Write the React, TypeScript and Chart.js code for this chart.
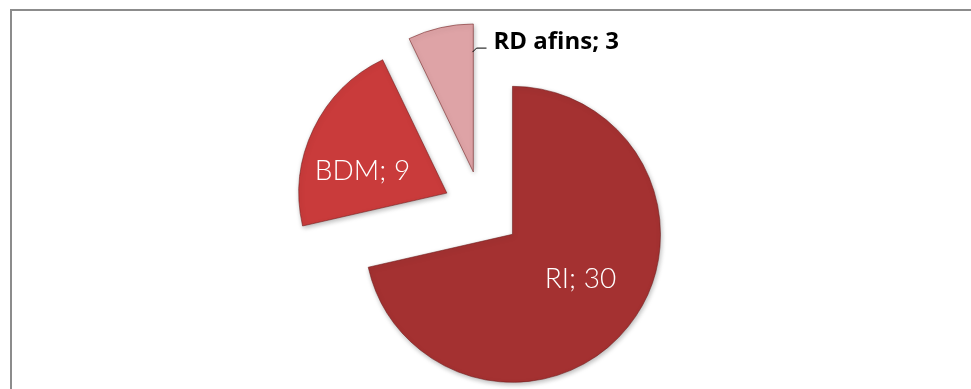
import React, { useEffect, useRef } from "react";
import { Chart, registerables } from "chart.js";

Chart.register(...registerables);

const categories = ["RI", "BDM", "RD afins"];
const values = [30, 9, 3];
const sliceColors = ["#a43131", "#c93b3b", "#dea3a6"];
const labelColors = ["#ffffff", "#ffffff", "#000000"];

const EXPLODE = 39;
const RADIUS = 148;

// label placement: fraction of slice angle, fraction of radius, inside/outside
const labelLayout = [
  { at: 0.48, r: 0.55, outside: false },
  { at: 0.36, r: 0.59, outside: false },
  { at: 0.985, r: 0.81, outside: true },
];

const explodePlugin = {
  id: "explodeSlices",
  beforeDatasetDraw(chart: any, args: any) {
    const ctx = chart.ctx;
    args.meta.data.forEach((arc: any) => {
      const half = (arc.startAngle + arc.endAngle) / 2;
      ctx.save();
      ctx.translate(Math.cos(half) * EXPLODE, Math.sin(half) * EXPLODE);
      ctx.shadowColor = "rgba(0,0,0,0.28)";
      ctx.shadowBlur = 5;
      ctx.shadowOffsetX = 1;
      ctx.shadowOffsetY = 2;
      arc.draw(ctx);
      ctx.restore();
    });
    return false;
  },
};

const labelPlugin = {
  id: "sliceLabels",
  afterDatasetsDraw(chart: any) {
    const ctx = chart.ctx;
    const meta = chart.getDatasetMeta(0);
    meta.data.forEach((arc: any, i: number) => {
      const half = (arc.startAngle + arc.endAngle) / 2;
      const cx = arc.x + Math.cos(half) * EXPLODE;
      const cy = arc.y + Math.sin(half) * EXPLODE;
      const lay = labelLayout[i];
      const a = arc.startAngle + (arc.endAngle - arc.startAngle) * lay.at;
      const px = cx + Math.cos(a) * arc.outerRadius * lay.r;
      const py = cy + Math.sin(a) * arc.outerRadius * lay.r;
      const text = categories[i] + "; " + values[i];
      ctx.save();
      ctx.fillStyle = labelColors[i];
      if (!lay.outside) {
        ctx.font = "300 28px Lato";
        ctx.textAlign = "center";
        ctx.textBaseline = "middle";
        ctx.fillText(text, px, py);
      } else {
        const ex = px + 4;
        const ey = py - 4;
        ctx.strokeStyle = "#000000";
        ctx.lineWidth = 1;
        ctx.beginPath();
        ctx.moveTo(px, py);
        ctx.lineTo(ex, ey);
        ctx.lineTo(ex + 10, ey);
        ctx.stroke();
        ctx.font = "bold 24px 'Open Sans'";
        ctx.textAlign = "left";
        ctx.textBaseline = "alphabetic";
        ctx.fillText(text, ex + 17, ey + 1);
      }
      ctx.restore();
    });
  },
};

export default function App() {
  const ref = useRef<HTMLCanvasElement | null>(null);
  useEffect(() => {
    document.body.style.margin = "0";
    if (!ref.current) return;
    const chart = new Chart(ref.current, {
      type: "pie",
      data: {
        labels: categories,
        datasets: [
          {
            data: values,
            backgroundColor: sliceColors,
            borderColor: "rgba(110,25,25,0.55)",
            borderWidth: 1,
          },
        ],
      },
      options: {
        animation: false,
        responsive: false,
        radius: RADIUS,
        layout: { padding: { left: 0, right: 7, top: 31, bottom: 0 } },
        plugins: {
          legend: { display: false },
          tooltip: { enabled: false },
        },
        events: [],
      },
      plugins: [explodePlugin, labelPlugin],
    });
    return () => chart.destroy();
  }, []);
  return (
    <div style={{ position: "relative", width: 971, height: 389, overflow: "hidden", background: "#ffffff" }}>
      <div
        style={{
          position: "absolute",
          left: 10,
          top: 9,
          width: 980,
          height: 400,
          borderTop: "2px solid #8c8c8c",
          borderLeft: "2px solid #8c8c8c",
        }}
      />
      <canvas ref={ref} width={971} height={389} style={{ position: "absolute", left: 0, top: 0 }} />
    </div>
  );
}
